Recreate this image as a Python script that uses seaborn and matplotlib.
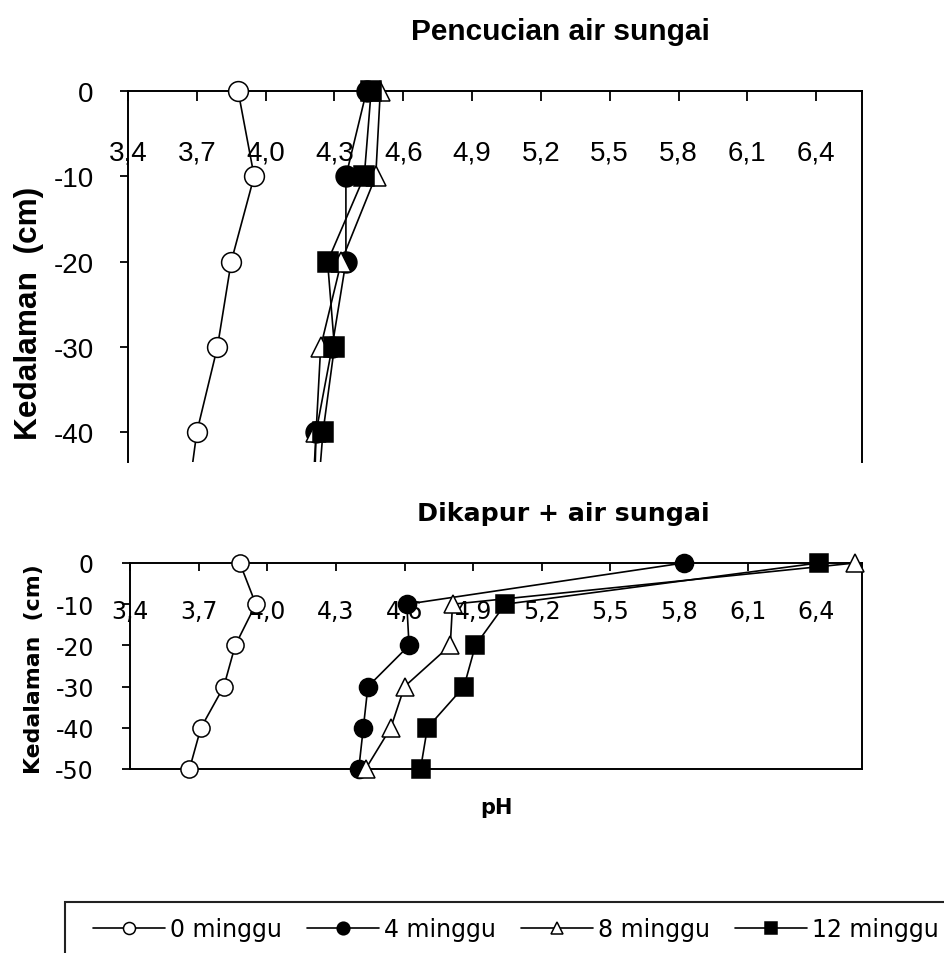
import numpy as np
import pandas as pd
import matplotlib
matplotlib.use("Agg")
import matplotlib.pyplot as plt
import seaborn as sns
from matplotlib.patches import Rectangle
from matplotlib.ticker import FixedLocator, FuncFormatter
from matplotlib.transforms import Bbox, TransformedBbox

# ---------------- data ----------------
series_labels = ["0 minggu", "4 minggu", "8 minggu", "12 minggu"]

depth_top = [0, -10, -20, -30, -40, -50]
top_w0 = [3.88, 3.95, 3.85, 3.79, 3.70, 3.65]
top_w4 = [4.44, 4.35, 4.35, 4.29, 4.22, 4.20]
top_w8 = [4.50, 4.48, 4.33, 4.24, 4.22, 4.21]
top_w12 = [4.46, 4.43, 4.27, 4.30, 4.25, 4.22]

depth_bot = [0, -10, -20, -30, -40, -50]
bot_w0 = [3.88, 3.95, 3.86, 3.81, 3.71, 3.66]
bot_w4 = [5.82, 4.61, 4.62, 4.44, 4.42, 4.40]
bot_w8 = [6.57, 4.81, 4.80, 4.60, 4.54, 4.43]
bot_w12 = [6.41, 5.04, 4.91, 4.86, 4.70, 4.67]

ph_ticks = [3.4, 3.7, 4.0, 4.3, 4.6, 4.9, 5.2, 5.5, 5.8, 6.1, 6.4]
depth_ticks_top = [0, -10, -20, -30, -40]
depth_ticks_bot = [0, -10, -20, -30, -40, -50]

title_top = "Pencucian air sungai"
title_bot = "Dikapur + air sungai"
ylabel_text = "Kedalaman  (cm)"
xlabel_text = "pH"

# ---------------- styling ----------------
sns.set_style("white")
plt.rcParams["font.family"] = ["DejaVu Sans"]
plt.rcParams["axes.unicode_minus"] = False
plt.rcParams["text.color"] = "black"
plt.rcParams["axes.labelcolor"] = "black"
plt.rcParams["xtick.color"] = "black"
plt.rcParams["ytick.color"] = "black"

arial = ["Liberation Sans", "DejaVu Sans"]

marker_styles = [
    dict(marker="o", markerfacecolor="white"),
    dict(marker="o", markerfacecolor="black"),
    dict(marker="^", markerfacecolor="white"),
    dict(marker="s", markerfacecolor="black"),
]

W, H = 944, 954
fig = plt.figure(figsize=(W / 100, H / 100), dpi=100)

def fx(px):
    return px / W

def fy(py):
    return 1 - py / H

ax1 = fig.add_axes([fx(128), fy(463), fx(862) - fx(128), fy(92) - fy(463)])
ax2 = fig.add_axes([fx(130), fy(770), fx(862) - fx(130), fy(564) - fy(770)])

comma_fmt = FuncFormatter(lambda v, p: f"{v:.1f}".replace(".", ","))
int_fmt = FuncFormatter(lambda v, p: f"{int(round(v))}")

def draw(ax, depth, series, msize):
    lines = []
    for vals, lab, ms in zip(series, series_labels, marker_styles):
        before = len(ax.lines)
        sns.lineplot(x=vals, y=depth, ax=ax, sort=False, estimator=None,
                     color="black", linewidth=1.2, legend=False, label=lab,
                     markersize=msize if ms["markerfacecolor"] == "black" else msize * 0.95,
                     markeredgecolor="black", markeredgewidth=1.1,
                     zorder=3, **ms)
        lines.append(ax.lines[before])
    return lines

# ---- top chart
l1 = draw(ax1, depth_top, [top_w0, top_w4, top_w8, top_w12], 15)
clipbb = TransformedBbox(Bbox([[-0.05, 0.0], [1.05, 1.1]]), ax1.transAxes)
for ln in l1:
    ln.set_clip_path(None)
    ln.set_clip_box(clipbb)
ax1.set_xlim(3.4, 6.6)
ax1.set_ylim(-43.5, 0)
ax1.spines["bottom"].set_visible(False)
for s in ["top", "left", "right"]:
    ax1.spines[s].set_color("black")
    ax1.spines[s].set_linewidth(1.4)

# ---- bottom chart
l2 = draw(ax2, depth_bot, [bot_w0, bot_w4, bot_w8, bot_w12], 13)
for ln in l2:
    ln.set_clip_on(False)
ax2.set_xlim(3.4, 6.6)
ax2.set_ylim(-50, 0)
for s in ["top", "bottom", "left", "right"]:
    ax2.spines[s].set_color("black")
    ax2.spines[s].set_linewidth(1.4)

for ax, yt, fam, tfs, xpad, ypad, xlen in [
    (ax1, depth_ticks_top, arial, 20, -54, 18.7, 7),
    (ax2, depth_ticks_bot, ["DejaVu Sans"], 17, -43, 20, 6),
]:
    ax.xaxis.set_major_locator(FixedLocator(ph_ticks))
    ax.xaxis.set_major_formatter(comma_fmt)
    ax.yaxis.set_major_locator(FixedLocator(yt))
    ax.yaxis.set_major_formatter(int_fmt)
    ax.xaxis.tick_top()
    ax.tick_params(axis="x", which="major", direction="in", length=xlen,
                   width=1.3, color="black", pad=xpad, labelsize=tfs,
                   labelcolor="black")
    ax.tick_params(axis="y", which="major", direction="out", length=6,
                   width=1.3, color="black", pad=ypad, labelsize=tfs,
                   labelcolor="black", left=True)
    for t in ax.get_xticklabels() + ax.get_yticklabels():
        t.set_family(fam)
    ax.set_xlabel("")
    ax.set_ylabel("")
    ax.grid(False)

# y labels
ax1.set_ylabel(ylabel_text, family=arial, fontweight="bold", fontsize=22.8,
               color="black")
ax1.yaxis.set_label_coords((44 - 128) / 734, (463 - 313) / 371)
ax2.set_ylabel(ylabel_text, family=["DejaVu Sans"], fontweight="bold",
               fontsize=15.8, color="black")
ax2.yaxis.set_label_coords((44 - 130) / 732, (770 - 669) / 206)

# pH label
ax2.xaxis.set_label_position("bottom")
ax2.set_xlabel(xlabel_text, fontweight="bold", fontsize=15, labelpad=20,
               color="black")

# titles
fig.text(fx(560), fy(40), title_top, ha="center", va="baseline",
         family=arial, fontweight="bold", fontsize=21.5, color="black")
fig.text(fx(563), fy(521), title_bot, ha="center", va="baseline",
         family=["DejaVu Sans"], fontweight="bold", fontsize=18.2,
         color="black")

# legend
leg = fig.legend(l2, series_labels, loc="center left",
                 bbox_to_anchor=(fx(93), fy(930)), ncol=4, frameon=False,
                 borderpad=0, borderaxespad=0, handlelength=3.05,
                 handletextpad=0.21, columnspacing=1.06, fontsize=17,
                 markerscale=0.7, labelcolor="black")
fig.add_artist(Rectangle((fx(65), -0.1), 1.0, fy(903) + 0.1,
                         transform=fig.transFigure, fill=False,
                         edgecolor="#222222", linewidth=1.5))

fig.savefig("out.png", dpi=100)
